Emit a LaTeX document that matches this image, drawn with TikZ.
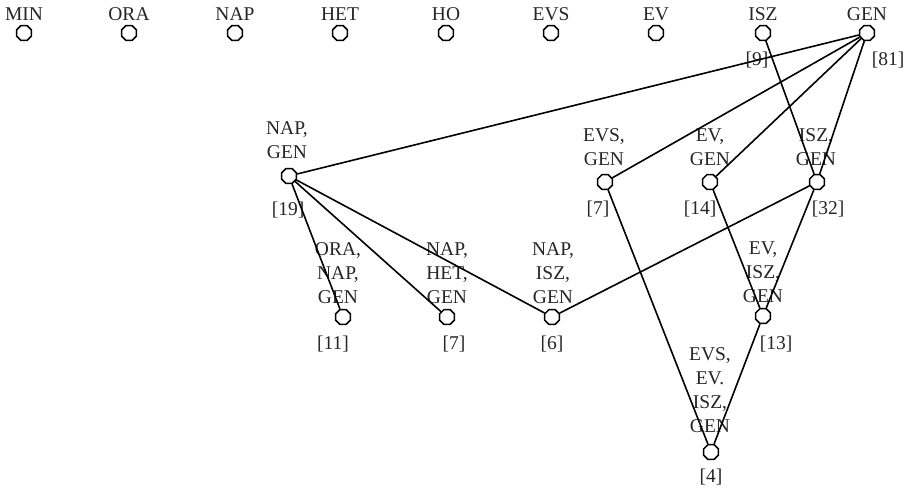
\documentclass[tikz,border=0pt]{standalone}
\usepackage{fontspec}
\setmainfont{Liberation Serif}
\usetikzlibrary{shapes.geometric}
\begin{document}
\begin{tikzpicture}[x=1pt,y=-1pt,
  oct/.style={regular polygon, regular polygon sides=8, draw=black, line width=1.5pt, minimum size=16pt, inner sep=0pt, fill=white},
  lbl/.style={font=\fontsize{19.5}{24}\selectfont, align=center, inner sep=0pt, anchor=base, text=black!85},
  cnt/.style={font=\fontsize{19.5}{24}\selectfont, inner sep=0pt, text=black!85},
  edge/.style={line width=1.6pt, black}]
\useasboundingbox (0,0) rectangle (909,490);
% top row
\foreach \n/\t/\x in {a/MIN/24, b/ORA/129, c/NAP/235, d/HET/340, e/HO/446, f/EVS/551, g/EV/656, h/ISZ/763, i/GEN/867}{
  \node[oct] (\n) at (\x,33) {};
  \node[lbl] (\n t) at (\x,20) {\t};
}
\node[cnt] (hc) at (757,60) {[9]};
\node[cnt] (ic) at (888,60) {[81]};
% second row
\node[oct] (ng) at (289,176) {};
\node[lbl] (ngt) at (287,158) {NAP,\\GEN};
\node[cnt] (ngc) at (288,210) {[19]};
\node[oct] (eg) at (605,182) {};
\node[lbl] (egt) at (604,165) {EVS,\\GEN};
\node[cnt] (egc) at (598,209) {[7]};
\node[oct] (vg) at (710,182) {};
\node[lbl] (vgt) at (710,165) {EV,\\GEN};
\node[cnt] (vgc) at (700,209) {[14]};
\node[oct] (ig) at (817,182) {};
\node[lbl] (igt) at (816,165) {ISZ,\\GEN};
\node[cnt] (igc) at (828,209) {[32]};
% third row
\node[oct] (ong) at (343,317) {};
\node[lbl] (ongt) at (338,303) {ORA,\\NAP,\\GEN};
\node[cnt] (ongc) at (333,344) {[11]};
\node[oct] (nhg) at (447,317) {};
\node[lbl] (nhgt) at (447,303) {NAP,\\HET,\\GEN};
\node[cnt] (nhgc) at (454,344) {[7]};
\node[oct] (nig) at (552,317) {};
\node[lbl] (nigt) at (553,303) {NAP,\\ISZ,\\GEN};
\node[cnt] (nigc) at (552,344) {[6]};
\node[oct] (vig) at (763,316) {};
\node[lbl] (vigt) at (763,302) {EV,\\ISZ,\\GEN};
\node[cnt] (vigc) at (776,344) {[13]};
% bottom
\node[oct] (all) at (711,452) {};
\node[lbl] (allt) at (710,432) {EVS,\\EV.\\ISZ,\\GEN};
\node[cnt] (allc) at (711,477) {[4]};
% edges
\draw[edge] (i) -- (ng);
\draw[edge] (i) -- (eg);
\draw[edge] (i) -- (vg);
\draw[edge] (i) -- (ig);
\draw[edge] (h) -- (ig);
\draw[edge] (ng) -- (ong);
\draw[edge] (ng) -- (nhg);
\draw[edge] (ng) -- (nig);
\draw[edge] (ig) -- (nig);
\draw[edge] (ig) -- (vig);
\draw[edge] (vg) -- (vig);
\draw[edge] (eg) -- (all);
\draw[edge] (vig) -- (all);
\end{tikzpicture}
\end{document}
